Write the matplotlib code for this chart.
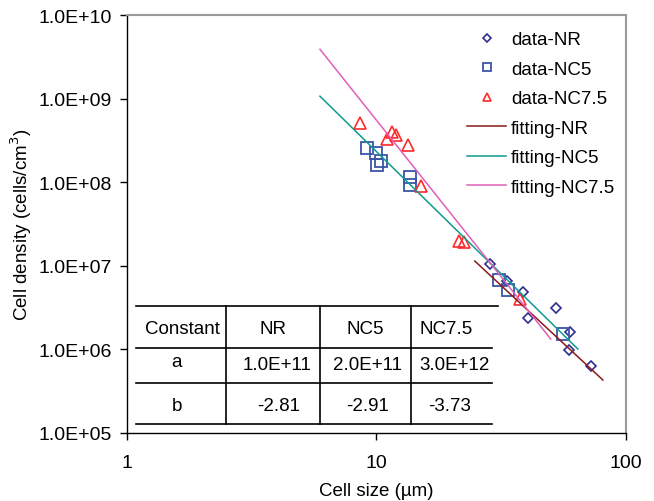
import matplotlib
matplotlib.use('Agg')
import matplotlib.pyplot as plt
from matplotlib.ticker import FuncFormatter, NullLocator

plt.rcParams['font.family'] = ['Liberation Sans', 'DejaVu Sans']

# measured points (cell size in um, density in cells/cm^3)
nr_size = [28.5, 33.3, 38.6, 40.5, 52.4, 59.6, 59.1, 72.4]
nr_dens = [1.05e7, 6.6e6, 4.86e6, 2.38e6, 3.13e6, 1.61e6, 9.8e5, 6.3e5]

nc5_size = [9.16, 9.95, 10.4, 10.1, 13.7, 13.7, 31.0, 33.7, 55.9]
nc5_dens = [2.56e8, 2.23e8, 1.79e8, 1.61e8, 1.15e8, 9.3e7, 6.77e6, 5.14e6, 1.53e6]

nc75_size = [8.59, 11.0, 11.6, 12.0, 13.4, 15.1, 21.4, 22.4, 37.6]
nc75_dens = [5.1e8, 3.29e8, 3.98e8, 3.67e8, 2.79e8, 9.0e7, 1.98e7, 1.93e7, 4.0e6]

# fitted power-law lines, end points
fit_nr_x = [24.8, 80.9]
fit_nr_y = [1.14e7, 4.3e5]
fit_nc5_x = [5.94, 64.2]
fit_nc5_y = [1.07e9, 1.01e6]
fit_nc75_x = [5.94, 50.0]
fit_nc75_y = [3.9e9, 1.33e6]

# table of fit constants
table_header = ['Constant', 'NR', 'NC5', 'NC7.5']
table_a = ['a', '1.0E+11', '2.0E+11', '3.0E+12']
table_b = ['b', '-2.81', '-2.91', '-3.73']

fig = plt.figure(figsize=(6.54, 5.02), dpi=100)
ax = fig.add_axes([0.194, 0.1355, 0.763, 0.8325])

ax.plot(nr_size, nr_dens, linestyle='none', marker='D', markersize=5.5,
        markerfacecolor='none', markeredgecolor='#2e2e8f', markeredgewidth=1.2, label='data-NR')
ax.plot(nc5_size, nc5_dens, linestyle='none', marker='s', markersize=8,
        markerfacecolor='none', markeredgecolor='#3a55a8', markeredgewidth=1.3, label='data-NC5')
ax.plot(nc75_size, nc75_dens, linestyle='none', marker='^', markersize=8,
        markerfacecolor='none', markeredgecolor='#ff2a2a', markeredgewidth=1.2, label='data-NC7.5')
ax.plot(fit_nr_x, fit_nr_y, color='#8b1a1a', linewidth=1.1, label='fitting-NR')
ax.plot(fit_nc5_x, fit_nc5_y, color='#0f9a90', linewidth=1.1, label='fitting-NC5')
ax.plot(fit_nc75_x, fit_nc75_y, color='#e060b8', linewidth=1.1, label='fitting-NC7.5')

ax.set_xscale('log')
ax.set_yscale('log')
ax.set_xlim(1, 100)
ax.set_ylim(1e5, 1e10)
ax.xaxis.set_minor_locator(NullLocator())
ax.yaxis.set_minor_locator(NullLocator())
ax.set_xticks([1, 10, 100])
ax.set_xticklabels(['1', '10', '100'])
ax.set_yticks([1e5, 1e6, 1e7, 1e8, 1e9, 1e10])
ax.yaxis.set_major_formatter(FuncFormatter(lambda v, p: '%.1E' % v))
ax.tick_params(axis='both', direction='out', length=5, width=1, labelsize=14, pad=6)
ax.tick_params(axis='x', pad=10)

for s in ['top', 'right']:
    ax.spines[s].set_color('#9a9a9a')
    ax.spines[s].set_linewidth(1.5)
for s in ['left', 'bottom']:
    ax.spines[s].set_color('black')
    ax.spines[s].set_linewidth(1)

ax.set_xlabel('Cell size (µm)', fontsize=13.5, labelpad=8)
ax.set_ylabel('Cell density (cells/cm$^3$)', fontsize=13.5, labelpad=3)

ax.legend(loc='upper right', bbox_to_anchor=(1.011, 1.0), frameon=False, fontsize=13.5,
          handlelength=2.1, handletextpad=0.25, labelspacing=0.66, borderaxespad=0.45,
          markerscale=0.75)

# table drawn as lines and text in axes coordinates
tr = ax.transAxes
row_lines = [(0.304, 0.743), (0.203, 0.731), (0.120, 0.731), (0.0215, 0.731)]
for y, xe in row_lines:
    ax.plot([0.018, xe], [y, y], color='black', linewidth=1.2, transform=tr, clip_on=False)
for x in [0.198, 0.387, 0.569]:
    ax.plot([x, x], [0.0215, 0.304], color='black', linewidth=1.2, transform=tr, clip_on=False)

col_x = [0.112, 0.293, 0.477, 0.639]
val_x = [0.10, 0.30, 0.483, 0.657]
b_x = [0.10, 0.305, 0.483, 0.647]
for x, t in zip(col_x, table_header):
    ax.text(x, 0.249, t, transform=tr, ha='center', va='center', fontsize=13.5)
for i, t in enumerate(table_a):
    yy = 0.172 if i == 0 else 0.163
    ax.text(val_x[i], yy, t, transform=tr, ha='center', va='center', fontsize=13.5)
for x, t in zip(b_x, table_b):
    ax.text(x, 0.065, t, transform=tr, ha='center', va='center', fontsize=13.5)

fig.savefig('out.png', dpi=100)
